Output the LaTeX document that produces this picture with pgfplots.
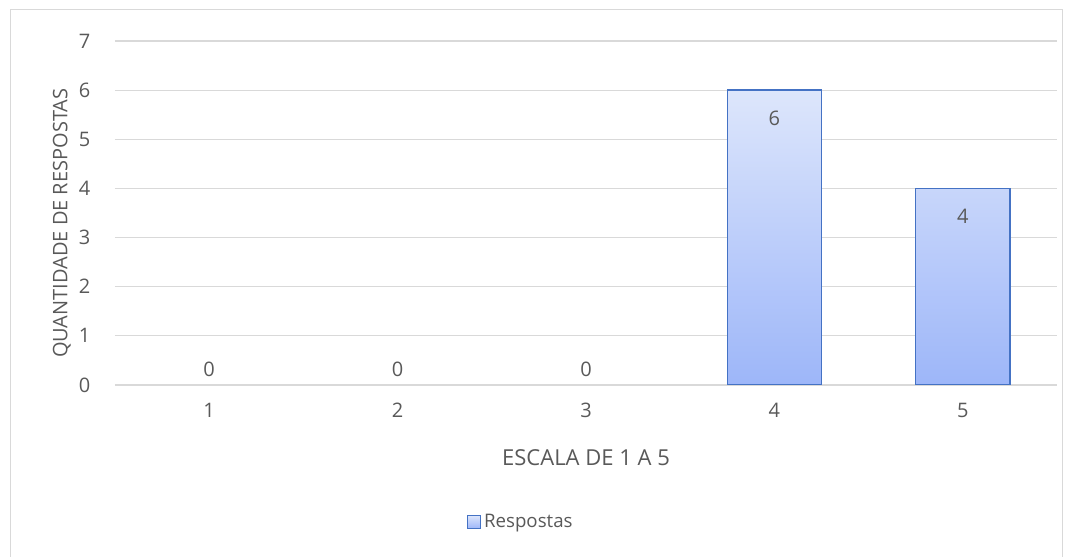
\documentclass[border=0pt]{standalone}
\usepackage{pgfplots}
\pgfplotsset{compat=1.18}
\usepackage{fontspec}
\setmainfont{Open Sans}
\definecolor{txt}{HTML}{595959}
\definecolor{gridc}{HTML}{D9D9D9}
\definecolor{edgec}{HTML}{4472C4}
\definecolor{topc}{HTML}{DDE6FB}
\definecolor{botc}{HTML}{9DB6F9}
\begin{document}
\begin{tikzpicture}
\path (0pt,0pt) rectangle (804pt,415.5pt);
\draw[gridc, line width=0.75pt] (7.5pt,-2pt) -- (7.5pt,408pt) -- (796.5pt,408pt) -- (796.5pt,-2pt);
\begin{axis}[
  at={(86.25pt,126.75pt)}, anchor=south west,
  scale only axis, width=706.5pt, height=258pt,
  xmin=0.5, xmax=5.5, ymin=0, ymax=7,
  xtick={1,2,3,4,5}, ytick={0,1,...,7},
  axis line style={draw=none},
  major tick length=0pt,
  ymajorgrids, grid style={gridc, line width=0.9pt},
  font=\fontsize{15pt}{17pt}\selectfont,
  tick label style={txt, font=\fontsize{15pt}{17pt}\selectfont},
  /pgf/number format/assume math mode=true,
  yticklabel style={xshift=-15pt},
  xticklabel style={yshift=-10pt},
  xlabel={ESCALA DE 1 A 5},
  ylabel={QUANTIDADE DE RESPOSTAS},
  xlabel style={txt, font=\fontsize{16.5pt}{18pt}\selectfont, at={(axis description cs:0.5,-0.212)}, anchor=center},
  ylabel style={txt, font=\fontsize{15pt}{17pt}\selectfont, at={(axis description cs:-0.0565,0.47)}, anchor=center},
  legend style={at={(0.431,-0.398)}, anchor=center, draw=none, font=\fontsize{14pt}{16pt}\selectfont, text=txt},
  legend image code/.code={\draw[#1] (0pt,-5pt) rectangle (10pt,5pt);},
]
\addplot[ybar, bar width=0.5, draw=edgec, line width=1pt, top color=topc, bottom color=botc,
  nodes near coords, every node near coord/.append style={txt, anchor=center, yshift=-21pt, font=\fontsize{15pt}{17pt}\selectfont}]
  coordinates {(4,6) (5,4)};
\addlegendentry{Respostas}
\addplot[draw=none, mark=none, forget plot,
  nodes near coords, every node near coord/.append style={txt, anchor=center, yshift=12pt, font=\fontsize{15pt}{17pt}\selectfont}]
  coordinates {(1,0) (2,0) (3,0)};
\end{axis}
\end{tikzpicture}
\end{document}
